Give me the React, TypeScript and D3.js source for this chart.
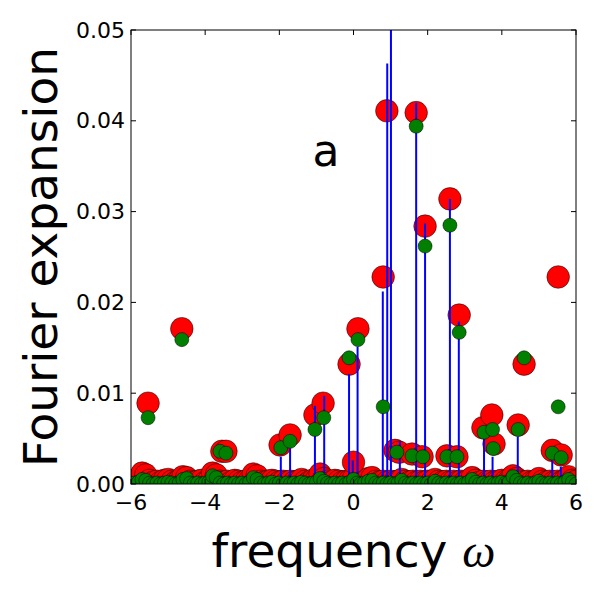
import React from "react";
import * as d3 from "d3";

// sampled frequencies of the low "floor" of the spectrum
const floorOmega = [
  -6.0, -5.9, -5.8, -5.7, -5.6, -5.5, -5.4, -5.3, -5.2, -5.1,
  -5.0, -4.9, -4.8, -4.7, -4.6, -4.5, -4.4, -4.3, -4.2, -4.1,
  -4.0, -3.9, -3.8, -3.7, -3.6, -3.5, -3.4, -3.3, -3.2, -3.1,
  -3.0, -2.9, -2.8, -2.7, -2.6, -2.5, -2.4, -2.3, -2.2, -2.1,
  -2.0, -1.9, -1.8, -1.7, -1.6, -1.5, -1.4, -1.3, -1.2, -1.1,
  -1.0, -0.9, -0.8, -0.7, -0.6, -0.5, -0.4, -0.3, -0.2, -0.1,
  0.0, 0.1, 0.2, 0.3, 0.4, 0.5, 0.6, 0.7, 0.8, 0.9,
  1.0, 1.1, 1.2, 1.3, 1.4, 1.5, 1.6, 1.7, 1.8, 1.9,
  2.0, 2.1, 2.2, 2.3, 2.4, 2.5, 2.6, 2.7, 2.8, 2.9,
  3.0, 3.1, 3.2, 3.3, 3.4, 3.5, 3.6, 3.7, 3.8, 3.9,
  4.0, 4.1, 4.2, 4.3, 4.4, 4.5, 4.6, 4.7, 4.8, 4.9,
  5.0, 5.1, 5.2, 5.3, 5.4, 5.5, 5.6, 5.7, 5.8, 5.9,
  6.0,
];
const floorRed = [
  0.0003, 0.0004, 0.0006, 0.0012, 0.001, 0.0004, 0.0002, 0.0003, 0.0002, 0.0004,
  0.0005, 0.0003, 0.0002, 0.0004, 0.0008, 0.0007, 0.0003, 0.0002, 0.0003, 0.0004,
  0.0002, 0.0004, 0.0012, 0.001, 0.0003, 0.0002, 0.0003, 0.0002, 0.0004, 0.0003,
  0.0002, 0.0003, 0.0004, 0.0011, 0.0009, 0.0003, 0.0002, 0.0003, 0.0004, 0.0003,
  0.0002, 0.0003, 0.0002, 0.0003, 0.0002, 0.0003, 0.0005, 0.0003, 0.0002, 0.0004,
  0.0005, 0.0011, 0.0006, 0.0003, 0.0002, 0.0004, 0.0003, 0.0002, 0.0003, 0.0004,
  0.0006, 0.0003, 0.0002, 0.0003, 0.0006, 0.0007, 0.0003, 0.0002, 0.0003, 0.0002,
  0.0003, 0.0002, 0.0003, 0.0005, 0.0003, 0.0002, 0.0003, 0.0002, 0.0003, 0.0002,
  0.0003, 0.0002, 0.0005, 0.0003, 0.0002, 0.0003, 0.0002, 0.0003, 0.0002, 0.0003,
  0.0002, 0.0004, 0.0007, 0.0004, 0.0002, 0.0003, 0.0002, 0.0003, 0.0002, 0.0003,
  0.0004, 0.0003, 0.0004, 0.0009, 0.0006, 0.0003, 0.0002, 0.0003, 0.0002, 0.0003,
  0.0006, 0.0003, 0.0002, 0.0003, 0.0002, 0.0003, 0.0002, 0.0004, 0.0008, 0.0004,
  0.0003,
];
const floorGreen = [
  0.0, 0.0001, 0.0002, 0.0005, 0.0004, 0.0001, 0.0, 0.0001, 0.0, 0.0001,
  0.0002, 0.0001, 0.0, 0.0001, 0.0005, 0.0006, 0.0001, 0.0, 0.0001, 0.0,
  0.0001, 0.0002, 0.0009, 0.0007, 0.0001, 0.0, 0.0001, 0.0, 0.0001, 0.0,
  0.0001, 0.0, 0.0002, 0.0007, 0.0005, 0.0001, 0.0, 0.0001, 0.0002, 0.0,
  0.0001, 0.0, 0.0001, 0.0, 0.0001, 0.0, 0.0002, 0.0001, 0.0, 0.0001,
  0.0002, 0.0006, 0.0003, 0.0001, 0.0, 0.0001, 0.0, 0.0001, 0.0, 0.0002,
  0.0005, 0.0001, 0.0, 0.0001, 0.0003, 0.0004, 0.0001, 0.0, 0.0001, 0.0,
  0.0001, 0.0, 0.0001, 0.0004, 0.0001, 0.0, 0.0001, 0.0, 0.0001, 0.0,
  0.0001, 0.0, 0.0003, 0.0001, 0.0, 0.0001, 0.0, 0.0001, 0.0, 0.0001,
  0.0, 0.0002, 0.0005, 0.0002, 0.0, 0.0001, 0.0, 0.0001, 0.0, 0.0001,
  0.0002, 0.0001, 0.0002, 0.0008, 0.0004, 0.0001, 0.0, 0.0001, 0.0, 0.0001,
  0.0003, 0.0001, 0.0, 0.0001, 0.0, 0.0001, 0.0, 0.0002, 0.0005, 0.0002,
  0.0,
];

// the resolved peaks (red = first estimate, green = second estimate)
const redOmega = [
  -5.54, -4.63, -3.55, -3.44, -1.98, -1.71, -1.04, -0.82, -0.12, 0.0, 0.12,
  0.8, 0.9, 1.12, 1.23, 1.58, 1.69, 1.85, 1.93, 2.52, 2.6, 2.79, 2.85,
  3.49, 3.73, 3.79, 4.44, 4.6, 5.36, 5.52, 5.6,
];
const redValue = [
  0.0089, 0.0171, 0.0036, 0.0036, 0.0043, 0.0054, 0.0076, 0.0089, 0.0132, 0.0024, 0.0171,
  0.0228, 0.0411, 0.0037, 0.0035, 0.0033, 0.0409, 0.003, 0.0284, 0.0031, 0.0314, 0.003, 0.0186,
  0.0062, 0.0076, 0.0044, 0.0065, 0.0132, 0.0037, 0.0228, 0.0032,
];
const greenOmega = [
  -5.54, -4.63, -3.6, -3.44, -1.96, -1.71, -1.04, -0.8, -0.12, 0.12,
  0.8, 1.17, 1.58, 1.69, 1.87, 1.93, 2.52, 2.6, 2.79, 2.85,
  3.52, 3.75, 3.77, 4.44, 4.6, 5.36, 5.52, 5.6,
];
const greenValue = [
  0.0073, 0.0159, 0.0036, 0.0034, 0.004, 0.0047, 0.006, 0.0073, 0.0139, 0.0159,
  0.0085, 0.0035, 0.0031, 0.0394, 0.003, 0.0262, 0.003, 0.0285, 0.003, 0.0167,
  0.0057, 0.006, 0.0039, 0.006, 0.0139, 0.0034, 0.0085, 0.0029,
];

// exact spectrum lines
const stemOmega = [
  -1.96, -1.71, -1.04, -0.79, -0.12, -0.02, 0.11, 0.79, 0.91, 1.01,
  1.25, 1.69, 1.93, 2.6, 2.84, 3.52, 3.75, 4.43, 5.36, 5.59,
];
const stemValue = [
  0.003, 0.0039, 0.0086, 0.0097, 0.0121, 0.0026, 0.0151, 0.0212, 0.0463, 0.06,
  0.0047, 0.042, 0.0287, 0.0314, 0.0179, 0.0051, 0.003, 0.0052, 0.0026, 0.0019,
];

const xTicks = [-6, -4, -2, 0, 2, 4, 6];
const yTicks = [0, 0.01, 0.02, 0.03, 0.04, 0.05];

export default function App() {
  const width = 600;
  const height = 600;
  const margin = { top: 30, right: 24, bottom: 116, left: 131 };
  const x0 = margin.left;
  const x1 = width - margin.right;
  const y0 = height - margin.bottom;
  const y1 = margin.top;

  const x = d3.scaleLinear().domain([-6, 6]).range([x0, x1]);
  const y = d3.scaleLinear().domain([0, 0.05]).range([y0, y1]);
  const fmtY = d3.format(".2f");
  const fmtX = d3.format("d");

  const reds = floorOmega
    .map((w, i) => [w, floorRed[i]])
    .concat(redOmega.map((w, i) => [w, redValue[i]]));
  const greens = floorOmega
    .map((w, i) => [w, floorGreen[i]])
    .concat(greenOmega.map((w, i) => [w, greenValue[i]]));

  const font = "DejaVu Sans, sans-serif";

  return (
    <svg
      width={width}
      height={height}
      style={{ position: "absolute", left: 0, top: 0, background: "#fff" }}
    >
      <defs>
        <clipPath id="plot">
          <rect x={x0} y={y1} width={x1 - x0} height={y0 - y1} />
        </clipPath>
      </defs>
      <g clipPath="url(#plot)">
        {reds.map((d, i) => (
          <circle
            key={"r" + i}
            cx={x(d[0])}
            cy={y(d[1])}
            r={11.3}
            fill="#ff0000"
            stroke="#000"
            strokeWidth={0.5}
          />
        ))}
        {stemOmega.map((w, i) => (
          <line
            key={"s" + i}
            x1={x(w)}
            x2={x(w)}
            y1={y(0)}
            y2={y(stemValue[i])}
            stroke="#0000ff"
            strokeWidth={2}
          />
        ))}
        {greens.map((d, i) => (
          <circle
            key={"g" + i}
            cx={x(d[0])}
            cy={y(d[1])}
            r={7}
            fill="#007f00"
            stroke="#000"
            strokeWidth={0.5}
          />
        ))}
      </g>

      {/* frame */}
      <rect
        x={x0}
        y={y1}
        width={x1 - x0}
        height={y0 - y1}
        fill="none"
        stroke="#000"
        strokeWidth={1}
      />

      {/* x ticks, inward on bottom and top */}
      {xTicks.map((t) => (
        <g key={"xt" + t}>
          <line x1={x(t)} x2={x(t)} y1={y0} y2={y0 - 5} stroke="#000" />
          <line x1={x(t)} x2={x(t)} y1={y1} y2={y1 + 5} stroke="#000" />
          <text
            x={x(t)}
            y={y0 + 26}
            textAnchor="middle"
            fontFamily={font}
            fontSize={22}
          >
            {fmtX(t)}
          </text>
        </g>
      ))}

      {/* y ticks, inward on left and right */}
      {yTicks.map((t) => (
        <g key={"yt" + t}>
          <line x1={x0} x2={x0 + 5} y1={y(t)} y2={y(t)} stroke="#000" />
          <line x1={x1} x2={x1 - 5} y1={y(t)} y2={y(t)} stroke="#000" />
          <text
            x={x0 - 6}
            y={y(t) + 7.5}
            textAnchor="end"
            fontFamily={font}
            fontSize={22}
          >
            {fmtY(t)}
          </text>
        </g>
      ))}

      <text x={326} y={166} textAnchor="middle" fontFamily={font} fontSize={44}>
        a
      </text>

      <text
        x={(x0 + x1) / 2}
        y={567}
        textAnchor="middle"
        fontFamily={font}
        fontSize={47}
      >
        frequency{" "}
        <tspan fontFamily="Liberation Serif, serif" fontStyle="italic">
          ω
        </tspan>
      </text>

      <text
        transform={`translate(57,${(y0 + y1) / 2}) rotate(-90)`}
        textAnchor="middle"
        fontFamily={font}
        fontSize={47}
      >
        Fourier expansion
      </text>
    </svg>
  );
}
